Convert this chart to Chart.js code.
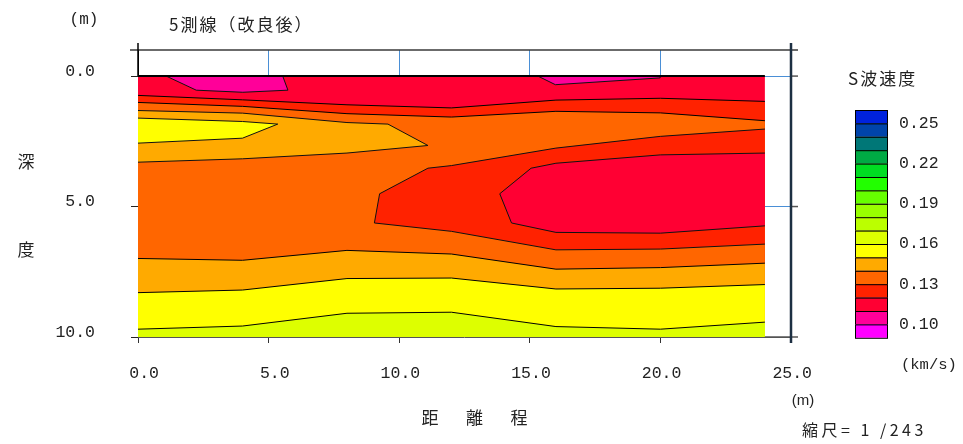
<!DOCTYPE html>
<html>
<head>
<meta charset="utf-8">
<title>5測線（改良後）</title>
<script src="https://cdn.jsdelivr.net/npm/chart.js@4.4.1/dist/chart.umd.min.js"></script>
<style>
  html, body { margin: 0; padding: 0; background: #fff; }
  #wrap { width: 963px; height: 444px; }
</style>
</head>
<body>
<div id="wrap"><canvas id="sectionChart" width="963" height="444"></canvas></div>
<script>
// S-wave velocity classes, top of the scale bar to bottom (0.01 km/s steps)
const bandColors = ['#0022dd', '#0044aa', '#007777', '#00aa44', '#00dd22', '#22ff00', '#66ff00', '#99ff00',
    '#bbff00', '#ddff00', '#ffff00', '#ffaa00', '#ff6600', '#ff2200', '#ff0033', '#ff0099', '#ff00ff'];
const legendLabels = ['0.25', '0.22', '0.19', '0.16', '0.13', '0.10'];
const distTicks = [0, 5, 10, 15, 20, 25];
const depthTicks = [0, 5, 10];

// contour lines running through the whole section: depth (m) at each node
const nodeX = [0, 4, 8, 12, 16, 20, 24];
const line012 = [0.74, 0.91, 1.10, 1.22, 0.92, 0.85, 0.97];
const line013 = [1.01, 1.16, 1.44, 1.57, 1.35, 1.41, 1.71];
const line014 = [6.99, 7.06, 6.68, 6.82, 7.40, 7.34, 7.17];
const line015 = [8.30, 8.20, 7.76, 7.74, 8.16, 8.13, 7.99];
const line016 = [9.70, 9.58, 9.09, 9.05, 9.60, 9.70, 9.43];

// closed contours: distance (m) / depth (m)
const ring013X = [24, 20, 16, 12, 11.1, 9.25, 9.05, 12, 16, 20, 24];
const ring013Y = [2.03, 2.31, 2.76, 3.43, 3.53, 4.51, 5.63, 5.95, 6.66, 6.63, 6.44];
const core012X = [24, 20, 16, 15.05, 13.85, 14.3, 16, 20, 24];
const core012Y = [2.95, 3.02, 3.34, 3.53, 4.51, 5.63, 5.99, 6.02, 5.74];
const lens014X = [0, 4, 8, 9.57, 11.1, 8, 4, 0];
const lens014Y = [1.32, 1.42, 1.78, 1.84, 2.66, 2.95, 3.17, 3.30];
const lens015X = [0, 4, 5.35, 4, 0];
const lens015Y = [1.61, 1.74, 1.84, 2.38, 2.57];
const pinkAX = [1.08, 2.23, 4.01, 5.74, 5.54];
const pinkAY = [0, 0.54, 0.62, 0.54, 0];
const pinkBX = [15.31, 15.98, 19.99, 19.99];
const pinkBY = [0, 0.33, 0.07, 0];

// velocity class -> colour
const c010 = bandColors[15], c011 = bandColors[14], c012 = bandColors[13], c013 = bandColors[12];
const c014 = bandColors[11], c015 = bandColors[10], c016 = bandColors[9];

function band(ys, color, width) {
    return {
        data: nodeX.map((x, i) => ({x: x, y: ys[i]})),
        backgroundColor: color,
        borderColor: '#000',
        borderWidth: width === undefined ? 1 : width,
        fill: {value: 10},
    };
}

function shape(xs, ys, color) {
    return {
        data: xs.map((x, i) => ({x: x, y: ys[i]})),
        backgroundColor: color,
        borderColor: '#111',
        borderWidth: 1,
        fill: 'shape',
    };
}

const layers = [
    band(nodeX.map(() => 0), c011, 0),
    band(line012, c012),
    band(line013, c013),
    shape(ring013X, ring013Y, c012),
    shape(core012X, core012Y, c011),
    shape(lens014X, lens014Y, c014),
    shape(lens015X, lens015Y, c015),
    band(line014, c014),
    band(line015, c015),
    band(line016, c016),
    shape(pinkAX, pinkAY, c010),
    shape(pinkBX, pinkBY, c010),
    // ground surface
    {data: [{x: 0, y: 0}, {x: 24, y: 0}], borderColor: '#000', borderWidth: 2, fill: false},
];
// first layer drawn first
layers.forEach((d, i) => {
    d.order = -i;
    d.showLine = true;
    d.pointRadius = 0;
    d.tension = 0;
});

const tickFont = {family: "'Liberation Mono', 'DejaVu Sans Mono', monospace", size: 16.5};
const cjk = "'Noto Sans CJK JP', 'Noto Sans CJK SC', sans-serif";
const gridBlue = '#4a8fd6';

// titles, frame pieces and the colour scale
const overlay = {
    id: 'overlay',
    afterDraw(chart) {
        const {ctx, chartArea: a, scales} = chart;
        const x = scales.x, y = scales.y;
        const seg = (x1, y1, x2, y2) => {
            ctx.beginPath();
            ctx.moveTo(x1, y1);
            ctx.lineTo(x2, y2);
            ctx.stroke();
        };
        ctx.save();
        ctx.lineWidth = 1.5;
        ctx.strokeStyle = '#3a3a3a';
        seg(a.left - 8, a.top, a.right + 7, a.top);
        ctx.strokeStyle = '#000';
        seg(x.getPixelForValue(0), a.top - 7, x.getPixelForValue(0), y.getPixelForValue(0));
        ctx.strokeStyle = '#555';
        depthTicks.forEach(v => seg(a.right, y.getPixelForValue(v), a.right + 7, y.getPixelForValue(v)));
        seg(x.getPixelForValue(24), a.bottom, a.right, a.bottom);
        ctx.lineWidth = 2.5;
        ctx.strokeStyle = '#1c2f42';
        seg(a.right, a.top - 7, a.right, a.bottom + 6);

        // texts
        ctx.fillStyle = '#222';
        ctx.textBaseline = 'middle';
        ctx.textAlign = 'center';
        ctx.font = "16px 'Liberation Mono', monospace";
        ctx.fillText('(m)', 84, 20);
        ctx.font = '15px ' + "'Liberation Sans', sans-serif";
        ctx.fillText('(m)', 803, 401);
        ctx.font = '17px ' + cjk;
        ctx.fillText('深', 26, 162);
        ctx.fillText('度', 26, 250);
        ['距', '離', '程'].forEach((ch, i) => ctx.fillText(ch, 430 + i * 44.5, 418));
        ctx.textAlign = 'left';
        ctx.letterSpacing = '2px';
        ctx.fillText('5測線（改良後）', 169, 25);
        ctx.fillText('S波速度', 848, 79);
        ctx.font = '16px ' + cjk;
        ctx.letterSpacing = '3.5px';
        ctx.fillText('縮尺= 1 /243', 802, 430);
        ctx.letterSpacing = '0px';
        ctx.font = "15.5px 'Liberation Mono', monospace";
        ctx.fillText('(km/s)', 901, 365);

        // colour scale
        const bx = 855, by = 110, bw = 33, bh = 13.4;
        ctx.lineWidth = 1;
        ctx.strokeStyle = '#000';
        bandColors.forEach((c, i) => {
            ctx.fillStyle = c;
            ctx.fillRect(bx, by + i * bh, bw, bh);
            ctx.strokeRect(bx + 0.5, by + i * bh + 0.5, bw - 1, bh);
        });
        ctx.fillStyle = '#222';
        ctx.font = '16.5px ' + tickFont.family;
        legendLabels.forEach((t, k) => ctx.fillText(t, 899, by + (k * 3 + 1) * bh));
        ctx.restore();
    }
};

new Chart(document.getElementById('sectionChart'), {
    type: 'scatter',
    data: {datasets: layers},
    options: {
        responsive: false,
        animation: false,
        events: [],
        layout: {padding: {top: 50, right: 172, left: 0, bottom: 0}},
        plugins: {legend: {display: false}, tooltip: {enabled: false}},
        scales: {
            x: {
                type: 'linear',
                min: 0,
                max: 25,
                afterBuildTicks: s => { s.ticks = distTicks.map(v => ({value: v})); },
                afterFit: s => { s.height = 107; },
                ticks: {
                    callback: v => v.toFixed(1),
                    align: 'end',
                    labelOffset: 21,
                    padding: 21,
                    maxRotation: 0,
                    autoSkip: false,
                    color: '#222',
                    font: tickFont,
                },
                grid: {
                    color: c => c.tick.value === 0 ? '#000' : (c.tick.value === 25 ? 'rgba(0,0,0,0)' : gridBlue),
                    tickColor: '#333',
                    tickLength: 6,
                },
                border: {display: false},
            },
            y: {
                type: 'linear',
                reverse: true,
                min: -1,
                max: 10,
                afterBuildTicks: s => { s.ticks = depthTicks.map(v => ({value: v})); },
                afterFit: s => { s.width = 138; },
                ticks: {
                    callback: v => v.toFixed(1),
                    labelOffset: -4.5,
                    padding: 36,
                    autoSkip: false,
                    color: '#222',
                    font: tickFont,
                },
                grid: {
                    color: c => c.tick.value === 10 ? '#555' : gridBlue,
                    tickColor: '#222',
                    tickLength: 7,
                },
                border: {display: false},
            },
        },
    },
    plugins: [overlay],
});
</script>
</body>
</html>
